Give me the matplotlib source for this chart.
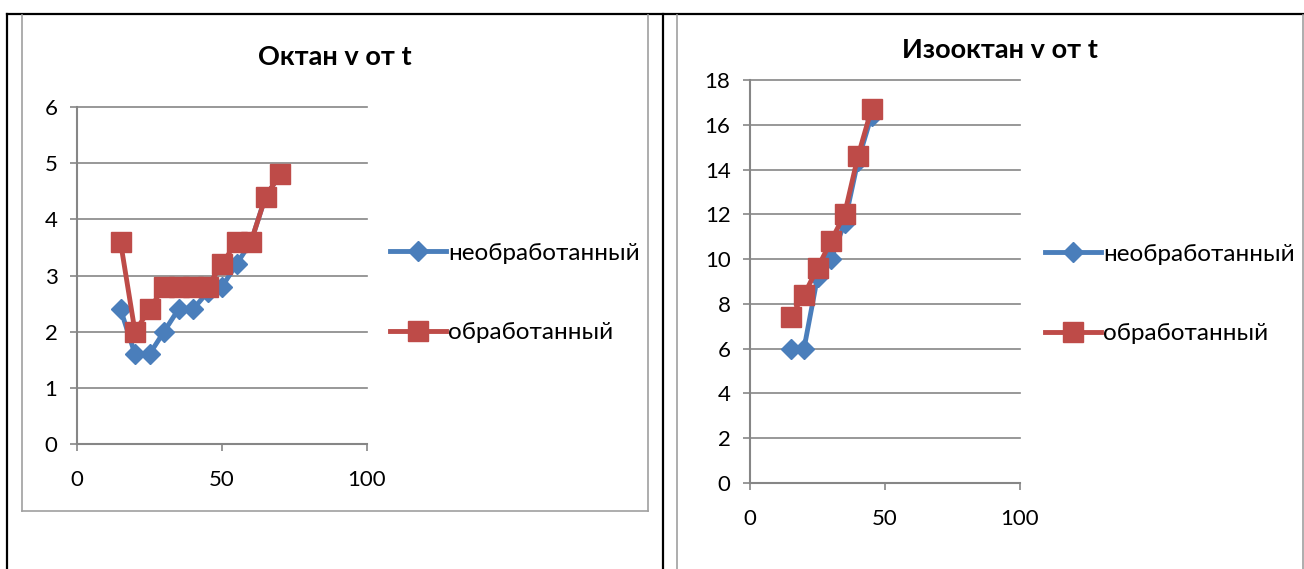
import matplotlib.pyplot as plt
from matplotlib.lines import Line2D

plt.rcParams['font.family'] = ['Lato', 'DejaVu Sans']

# data
octane_t_raw = [15, 20, 25, 30, 35, 40, 45, 50, 55, 60, 65, 70]
octane_v_raw = [2.4, 1.6, 1.6, 2.0, 2.4, 2.4, 2.7, 2.8, 3.2, 3.6, 4.4, 4.8]
octane_t_tr = [15, 20, 25, 30, 35, 40, 45, 50, 55, 60, 65, 70]
octane_v_tr = [3.6, 2.0, 2.4, 2.8, 2.8, 2.8, 2.8, 3.2, 3.6, 3.6, 4.4, 4.8]

iso_t_raw = [15, 20, 25, 30, 35, 40, 45]
iso_v_raw = [6.0, 6.0, 9.2, 10.0, 11.6, 14.4, 16.4]
iso_t_tr = [15, 20, 25, 30, 35, 40, 45]
iso_v_tr = [7.4, 8.4, 9.6, 10.8, 12.0, 14.6, 16.7]

labels = ["необработанный", "обработанный"]
BLUE = "#4A7EBB"
RED = "#BE4B48"
GRAY = "#868686"

W, H = 1304, 569
fig = plt.figure(figsize=(W / 100, H / 100), dpi=100)


def px(x, y):
    return x / W, 1 - y / H


def hline(x0, x1, y, color, lw):
    (a, b), (c, _) = px(x0, y), px(x1, y)
    fig.add_artist(Line2D([a, c], [b, b], color=color, lw=lw))


def vline(x, y0, y1, color, lw):
    (a, b), (_, d) = px(x, y0), px(x, y1)
    fig.add_artist(Line2D([a, a], [b, d], color=color, lw=lw))


# table borders and chart frames
hline(7, 1304, 14, "black", 1.6)
vline(7, 14, 569, "black", 1.6)
vline(663, 14, 569, "black", 1.6)
vline(22, 15, 511, "#a0a0a0", 1.2)
vline(648, 15, 511, "#a0a0a0", 1.2)
hline(22, 648, 511, "#a0a0a0", 1.2)
vline(677, 15, 569, "#a0a0a0", 1.2)
vline(1303, 15, 569, "#a0a0a0", 1.2)


def setup(ax, ymax, ystep, title, title_xy):
    ax.set_xlim(0, 100)
    ax.set_ylim(0, ymax)
    ax.set_xticks([0, 50, 100])
    ax.set_yticks(range(0, ymax + 1, ystep))
    ax.grid(axis='y', color=GRAY, lw=1.2, clip_on=False)
    ax.set_axisbelow(True)
    for s in ['top', 'right']:
        ax.spines[s].set_visible(False)
    for s in ['left', 'bottom']:
        ax.spines[s].set_color(GRAY)
        ax.spines[s].set_linewidth(1.5)
    ax.tick_params(direction='out', length=5, width=1.2, color=GRAY,
                   labelsize=16)
    ax.tick_params(axis='y', pad=9)
    ax.tick_params(axis='x', pad=14)
    fig.text(*px(*title_xy), title, ha='center', va='center',
             fontsize=19.5, fontweight='bold')


def draw(ax, t1, v1, t2, v2, legend_xy):
    ax.plot(t1, v1, color=BLUE, lw=3.5, marker='D', ms=10, label=labels[0],
            clip_on=False, zorder=3)
    ax.plot(t2, v2, color=RED, lw=3.5, marker='s', ms=14, label=labels[1],
            clip_on=False, zorder=4)
    ax.legend(loc='center left', bbox_to_anchor=px(*legend_xy),
              bbox_transform=fig.transFigure, frameon=False, fontsize=17.5,
              labelspacing=2.4, handlelength=2.3, handletextpad=0.1,
              borderaxespad=0)


ax1 = fig.add_axes([77 / W, 1 - 444 / H, 290 / W, 337 / H])
setup(ax1, 6, 1, "Октан v от t", (335, 57))
draw(ax1, octane_t_raw, octane_v_raw, octane_t_tr, octane_v_tr, (380, 293))

ax2 = fig.add_axes([750 / W, 1 - 483 / H, 270 / W, 403 / H])
setup(ax2, 18, 2, "Изооктан v от t", (1000, 50))
draw(ax2, iso_t_raw, iso_v_raw, iso_t_tr, iso_v_tr, (1035, 294))

fig.savefig("out.png", dpi=100)
